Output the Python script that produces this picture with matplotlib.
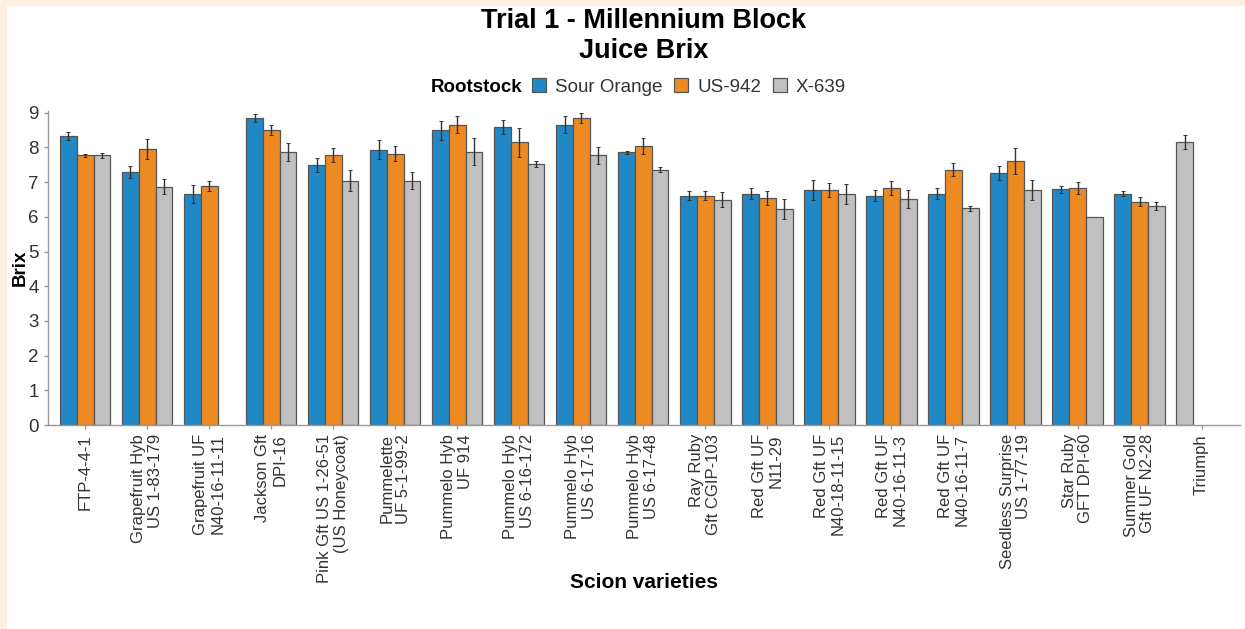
import numpy as np
import matplotlib
matplotlib.use('Agg')
import matplotlib.pyplot as plt
from matplotlib.patches import Patch, Rectangle

plt.rcParams['font.family'] = ['Liberation Sans', 'DejaVu Sans']

# data
scions = ['FTP-4-4-1', 'Grapefruit Hyb\nUS 1-83-179', 'Grapefruit UF\nN40-16-11-11',
          'Jackson Gft\nDPI-16', 'Pink Gft US 1-26-51\n(US Honeycoat)', 'Pummelette\nUF 5-1-99-2',
          'Pummelo Hyb\nUF 914', 'Pummelo Hyb\nUS 6-16-172', 'Pummelo Hyb\nUS 6-17-16',
          'Pummelo Hyb\nUS 6-17-48', 'Ray Ruby\nGft CGIP-103', 'Red Gft UF\nN11-29',
          'Red Gft UF\nN40-18-11-15', 'Red Gft UF\nN40-16-11-3', 'Red Gft UF\nN40-16-11-7',
          'Seedless Surprise\nUS 1-77-19', 'Star Ruby\nGFT DPI-60', 'Summer Gold\nGft UF N2-28',
          'Triumph']
rootstocks = ['Sour Orange', 'US-942', 'X-639']
nan = np.nan
sour_orange = [8.32, 7.29, 6.67, 8.85, 7.49, 7.94, 8.49, 8.60, 8.66, 7.86,
               6.61, 6.67, 6.77, 6.61, 6.67, 7.27, 6.79, 6.67, nan]
sour_orange_err = [0.12, 0.18, 0.26, 0.12, 0.20, 0.28, 0.27, 0.20, 0.25, 0.05,
                   0.13, 0.15, 0.28, 0.15, 0.15, 0.20, 0.10, 0.07, nan]
us942 = [7.77, 7.96, 6.88, 8.51, 7.79, 7.82, 8.66, 8.15, 8.84, 8.04,
         6.61, 6.55, 6.78, 6.83, 7.36, 7.60, 6.83, 6.43, nan]
us942_err = [0.05, 0.28, 0.14, 0.14, 0.20, 0.22, 0.25, 0.42, 0.15, 0.24,
             0.13, 0.20, 0.20, 0.20, 0.18, 0.38, 0.17, 0.13, nan]
x639 = [7.77, 6.87, nan, 7.87, 7.04, 7.04, 7.88, 7.53, 7.77, 7.36,
        6.49, 6.22, 6.66, 6.51, 6.24, 6.77, 6.00, 6.31, 8.16]
x639_err = [0.07, 0.22, nan, 0.25, 0.30, 0.25, 0.38, 0.08, 0.25, 0.07,
            0.22, 0.28, 0.28, 0.25, 0.07, 0.28, 0.0, 0.12, 0.20]

values = np.array([sour_orange, us942, x639])
errors = np.array([sour_orange_err, us942_err, x639_err])
colors = ['#2188C6', '#EE8A22', '#C0C0C0']

W, H = 1245, 629
fig = plt.figure(figsize=(W / 100, H / 100), dpi=100)
fig.patch.set_facecolor('#FDEEE0')
fig.add_artist(Rectangle((7 / W, 0), 1, 1 - 6 / H, transform=fig.transFigure,
                         facecolor='white', edgecolor='none', zorder=-10))

ax = fig.add_axes([48 / W, 1 - 425 / H, (1240 - 48) / W, (425 - 111) / H])
ax.set_facecolor('white')

w = 0.27
# present bars in each group are dodged from the left slot
for i in range(len(scions)):
    slot = 0
    for k in range(3):
        v = values[k, i]
        if np.isnan(v):
            continue
        xpos = i + (slot - 1) * w
        ax.bar(xpos, v, width=w, color=colors[k], edgecolor='#555555', linewidth=0.9, zorder=2)
        e = errors[k, i]
        if e > 0:
            ax.errorbar(xpos, v, yerr=e, fmt='none', ecolor='#333333', elinewidth=1,
                        capsize=1.2, capthick=0.7, zorder=3)
        slot += 1

ax.set_xlim(-0.6, len(scions) - 0.38)
ax.set_ylim(0, 9.05)
ax.set_yticks(range(0, 10))
ax.set_xticks(range(len(scions)))
ax.set_xticklabels(scions, rotation=90, ha='center', va='top', multialignment='right',
                   linespacing=1.15)
ax.tick_params(axis='y', labelsize=13.5, colors='#999999', labelcolor='#333333', length=3, width=1)
ax.tick_params(axis='x', labelsize=12, colors='#999999', labelcolor='#333333', length=3, width=1)

for s in ['top', 'right']:
    ax.spines[s].set_visible(False)
for s in ['left', 'bottom']:
    ax.spines[s].set_color('#999999')
    ax.spines[s].set_linewidth(1)

# titles
cx = 644 / W
fig.text(cx, 1 - 21 / H, 'Trial 1 - Millennium Block', ha='center', va='center',
         fontsize=19.5, fontweight='bold')
fig.text(cx, 1 - 51 / H, 'Juice Brix', ha='center', va='center',
         fontsize=19.5, fontweight='bold')
fig.text(20 / W, 1 - 268 / H, 'Brix', rotation=90, ha='center', va='center',
         fontsize=13.5, fontweight='bold')
fig.text(cx, 1 - 583 / H, 'Scion varieties', ha='center', va='center',
         fontsize=15, fontweight='bold')

# legend
fig.text(431 / W, 1 - 87 / H, 'Rootstock', ha='left', va='center',
         fontsize=13.5, fontweight='bold')
handles = [Patch(facecolor=c, edgecolor='#555555', linewidth=0.9) for c in colors]
fig.legend(handles, rootstocks, loc='center left', bbox_to_anchor=(532 / W, 1 - 87 / H),
           ncol=3, frameon=False, fontsize=13.5, handlelength=0.75, handleheight=0.75,
           handletextpad=0.5, columnspacing=0.6, borderpad=0, borderaxespad=0,
           labelcolor='#333333')

fig.savefig('out.png', dpi=100, facecolor=fig.get_facecolor())
